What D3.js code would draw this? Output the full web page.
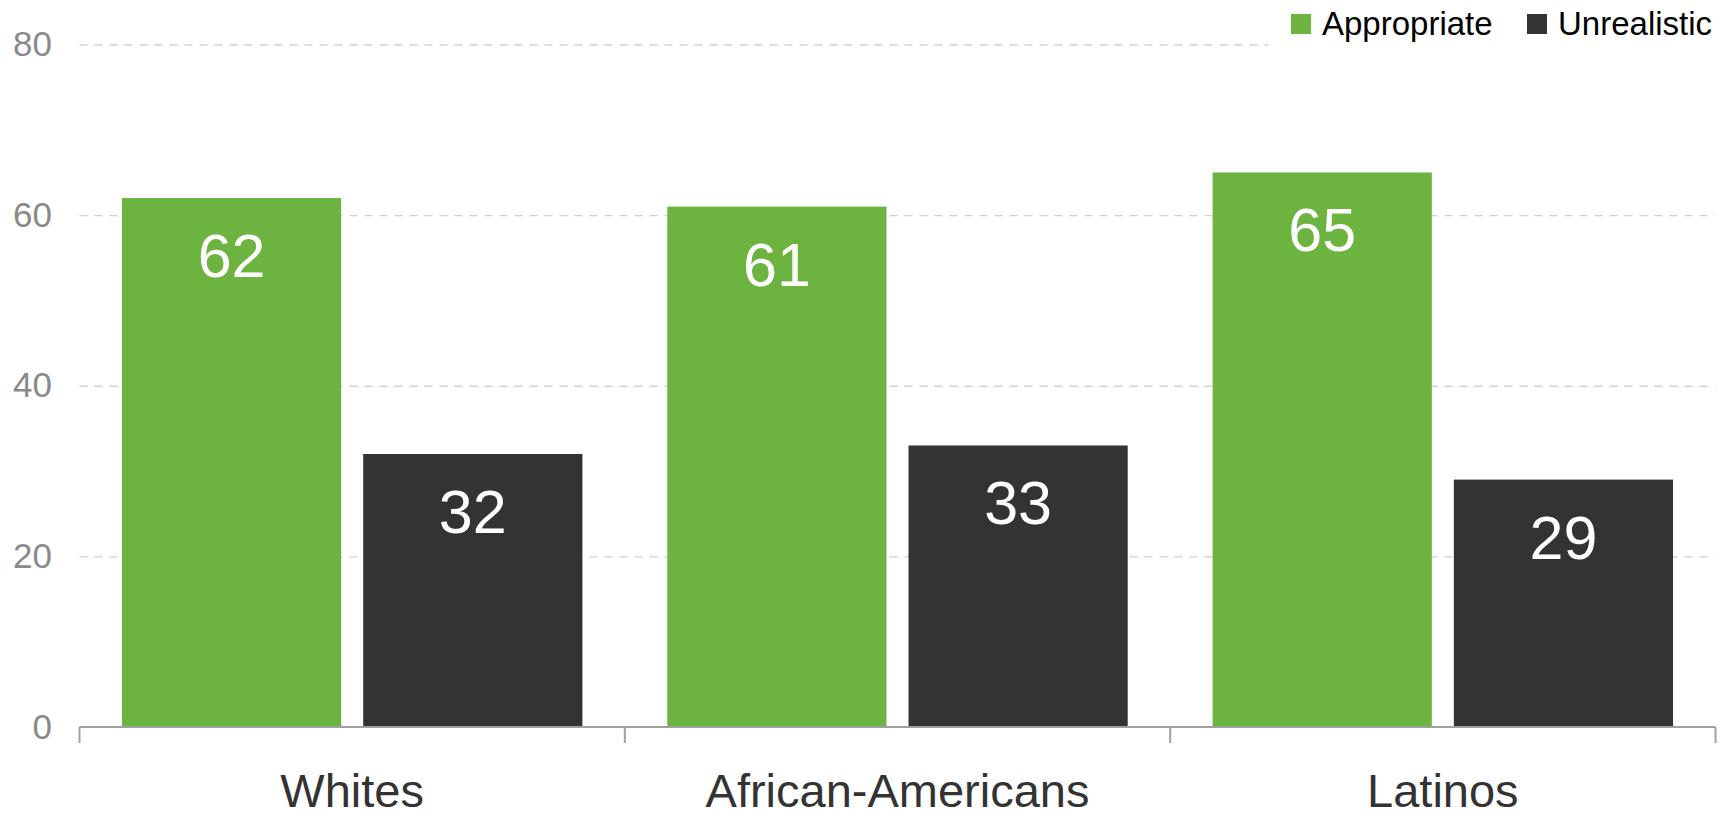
<!DOCTYPE html>
<html>
<head>
<meta charset="utf-8">
<script src="https://cdn.jsdelivr.net/npm/d3@7"></script>
<style>
  html, body { margin: 0; padding: 0; background: #fff; }
  svg { display: block; font-family: "Liberation Sans", Arial, sans-serif; }
</style>
</head>
<body>
<svg id="chart" width="1732" height="817"></svg>
<script>
const categories = ["Whites", "African-Americans", "Latinos"];
const seriesNames = ["Appropriate", "Unrealistic"];
const appropriate = [62, 61, 65];
const unrealistic = [32, 33, 29];
const yTicks = [0, 20, 40, 60, 80];
const colors = ["#6db33f", "#333333"];

(function () {
const seriesValues = [appropriate, unrealistic];
const svg = d3.select("#chart");
const W = 1732, H = 817;
const pLeft = 79.5, pRight = 1715.5, pBottom = 727, pTop = 44.5;

const x = d3.scaleBand().domain(categories).range([pLeft, pRight]).paddingInner(0).paddingOuter(0);
const xs = d3.scaleBand().domain(seriesNames).range([0, x.bandwidth()]).paddingInner(0.0913).paddingOuter(0.176);
const y = d3.scaleLinear().domain([0, 80]).range([pBottom, pTop]);

// gridlines + y labels
const yAxis = d3.axisLeft(y).tickValues(yTicks).tickSize(-(pRight - pLeft)).tickPadding(27.5);
const gy = svg.append("g").attr("transform", `translate(${pLeft},0)`).call(yAxis);
gy.select(".domain").remove();
gy.selectAll(".tick line")
  .attr("stroke", "#d0d0d0").attr("stroke-width", 1.3).attr("stroke-dasharray", "8,7")
  .filter(d => d === 0).remove();
gy.selectAll(".tick text")
  .attr("fill", "#8a8a8a").style("font-size", "35px").style("font-family", "'Liberation Sans', Arial, sans-serif");

// bars
const rows = [];
categories.forEach((c, i) => seriesNames.forEach((s, j) => rows.push({c, s, j, v: seriesValues[j][i]})));
svg.append("g").selectAll("rect").data(rows).join("rect")
  .attr("x", d => x(d.c) + xs(d.s))
  .attr("y", d => y(d.v))
  .attr("width", xs.bandwidth())
  .attr("height", d => y(0) - y(d.v))
  .attr("fill", d => colors[d.j]);

svg.append("g").selectAll("text").data(rows).join("text")
  .attr("x", d => x(d.c) + xs(d.s) + xs.bandwidth() / 2)
  .attr("y", d => y(d.v) + 79)
  .attr("text-anchor", "middle")
  .attr("fill", "#ffffff")
  .style("font-size", "61px")
  .text(d => d.v);

// x axis
const xAxis = d3.axisBottom(x).tickSize(0).tickPadding(0);
const gx = svg.append("g").attr("transform", `translate(0,${pBottom})`).call(xAxis);
gx.select(".domain").attr("stroke", "#a0a0a0").attr("stroke-width", 2).attr("d", `M${pLeft},0H${pRight}`);
gx.selectAll(".tick text")
  .attr("y", 80).attr("dy", 0)
  .attr("fill", "#333333").style("font-size", "47px").style("font-family", "'Liberation Sans', Arial, sans-serif");
const bounds = categories.map(c => x(c)).concat([x.range()[1]]);
gx.selectAll("line.bound").data(bounds).join("line").attr("class", "bound")
  .attr("x1", d => d).attr("x2", d => d).attr("y1", 0).attr("y2", 16)
  .attr("stroke", "#a0a0a0").attr("stroke-width", 2);

// legend
const lg = svg.append("g");
lg.append("rect").attr("x", 1268).attr("y", 0).attr("width", W - 1268).attr("height", 54).attr("fill", "#fff");
const legendX = [1291, 1527];
const items = lg.selectAll("g").data(seriesNames).join("g")
  .attr("transform", (d, i) => `translate(${legendX[i]},14)`);
items.append("rect").attr("width", 20).attr("height", 20).attr("fill", (d, i) => colors[i]);
items.append("text").attr("x", 31).attr("y", 21)
  .attr("fill", "#000").style("font-size", "33px").text(d => d);
})();
</script>
</body>
</html>
